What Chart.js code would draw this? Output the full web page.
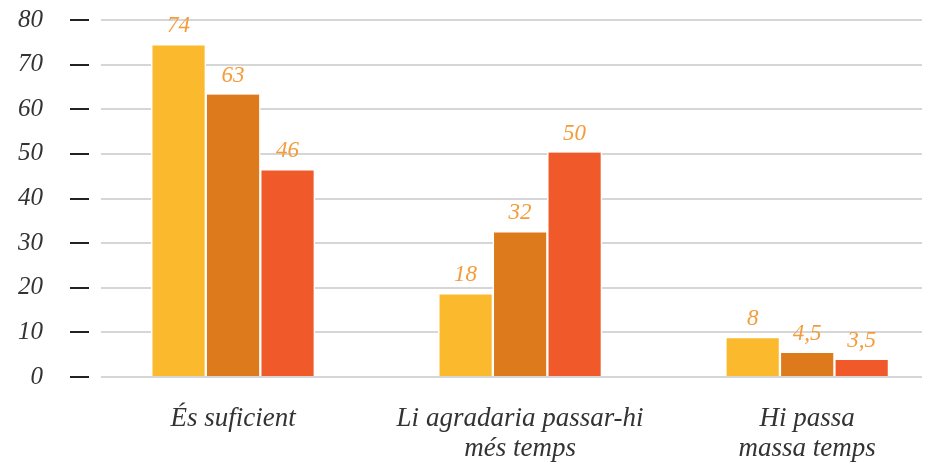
<!DOCTYPE html>
<html>
<head>
<meta charset="utf-8">
<script src="https://cdn.jsdelivr.net/npm/chart.js@4.4.0/dist/chart.umd.min.js"></script>
<style>
  html, body { margin: 0; padding: 0; background: #fff; }
</style>
</head>
<body>
<canvas id="myChart" width="930" height="463"></canvas>
<script>
// Categories on the x axis
const categories = ['És suficient', ['Li agradaria passar-hi', 'més temps'], ['Hi passa', 'massa temps']];
// Bar heights, one array per series
const serie1 = [74.3, 18.5, 8.7];
const serie2 = [63.3, 32.4, 5.4];
const serie3 = [46.3, 50.3, 3.8];
// Text printed above each bar
const labels1 = ['74', '18', '8'];
const labels2 = ['63', '32', '4,5'];
const labels3 = ['46', '50', '3,5'];
// Y axis ticks
const yTicks = [0, 10, 20, 30, 40, 50, 60, 70, 80];

const serif = "'Liberation Serif', 'DejaVu Serif', serif";

// Function to turn a series into {x, y} points on the category index
function toPoints(values) {
  return values.map((v, i) => ({ x: i, y: v }));
}

// Plugin to write the value over each bar
const valueLabels = {
  id: 'valueLabels',
  afterDatasetsDraw(chart) {
    const ctx = chart.ctx;
    ctx.save();
    ctx.font = 'italic 23px ' + serif;
    ctx.fillStyle = '#F39C3C';
    ctx.textAlign = 'center';
    ctx.textBaseline = 'alphabetic';
    chart.data.datasets.forEach((ds, di) => {
      chart.getDatasetMeta(di).data.forEach((bar, i) => {
        ctx.fillText(ds.valueText[i], bar.x, bar.y - 13);
      });
    });
    ctx.restore();
  }
};

const data = {
  datasets: [
    { label: 'Sèrie 1', data: toPoints(serie1), valueText: labels1, backgroundColor: '#FBB92E' },
    { label: 'Sèrie 2', data: toPoints(serie2), valueText: labels2, backgroundColor: '#DD7A1C' },
    { label: 'Sèrie 3', data: toPoints(serie3), valueText: labels3, backgroundColor: '#F05A2A' }
  ].map(ds => Object.assign(ds, {
    barThickness: 54.5,
    borderColor: '#ffffff',
    borderWidth: { left: 1.5, right: 1.5, top: 0, bottom: 0 },
    borderSkipped: false
  }))
};

const config = {
  type: 'bar',
  data: data,
  options: {
    responsive: false,
    animation: false,
    layout: { padding: { top: 20, right: 8, left: 0, bottom: 0 } },
    plugins: {
      legend: { display: false },
      tooltip: { enabled: false }
    },
    scales: {
      x: {
        type: 'linear',
        offset: false,
        min: -0.46,
        max: 2.4,
        afterBuildTicks: scale => { scale.ticks = categories.map((c, i) => ({ value: i })); },
        afterFit: scale => { scale.height = 86; },
        grid: { display: false, drawTicks: false },
        border: { display: false },
        ticks: {
          autoSkip: false,
          maxRotation: 0,
          padding: 27,
          color: '#333333',
          font: { family: serif, size: 27, style: 'italic', lineHeight: 1.12 },
          callback: value => categories[value]
        }
      },
      y: {
        min: 0,
        max: 80,
        afterBuildTicks: scale => { scale.ticks = yTicks.map(v => ({ value: v })); },
        afterFit: scale => { scale.width = 101; },
        grid: {
          color: '#D6D6D6',
          lineWidth: 2,
          tickColor: '#222222',
          tickWidth: 2,
          tickLength: 58,
          tickBorderDash: [19, 39],
          tickBorderDashOffset: 31
        },
        border: { display: false },
        ticks: {
          padding: 0,
          color: '#333333',
          font: { family: serif, size: 25, style: 'italic' }
        }
      }
    }
  },
  plugins: [valueLabels]
};

const myChart = new Chart('myChart', config);
</script>
</body>
</html>
